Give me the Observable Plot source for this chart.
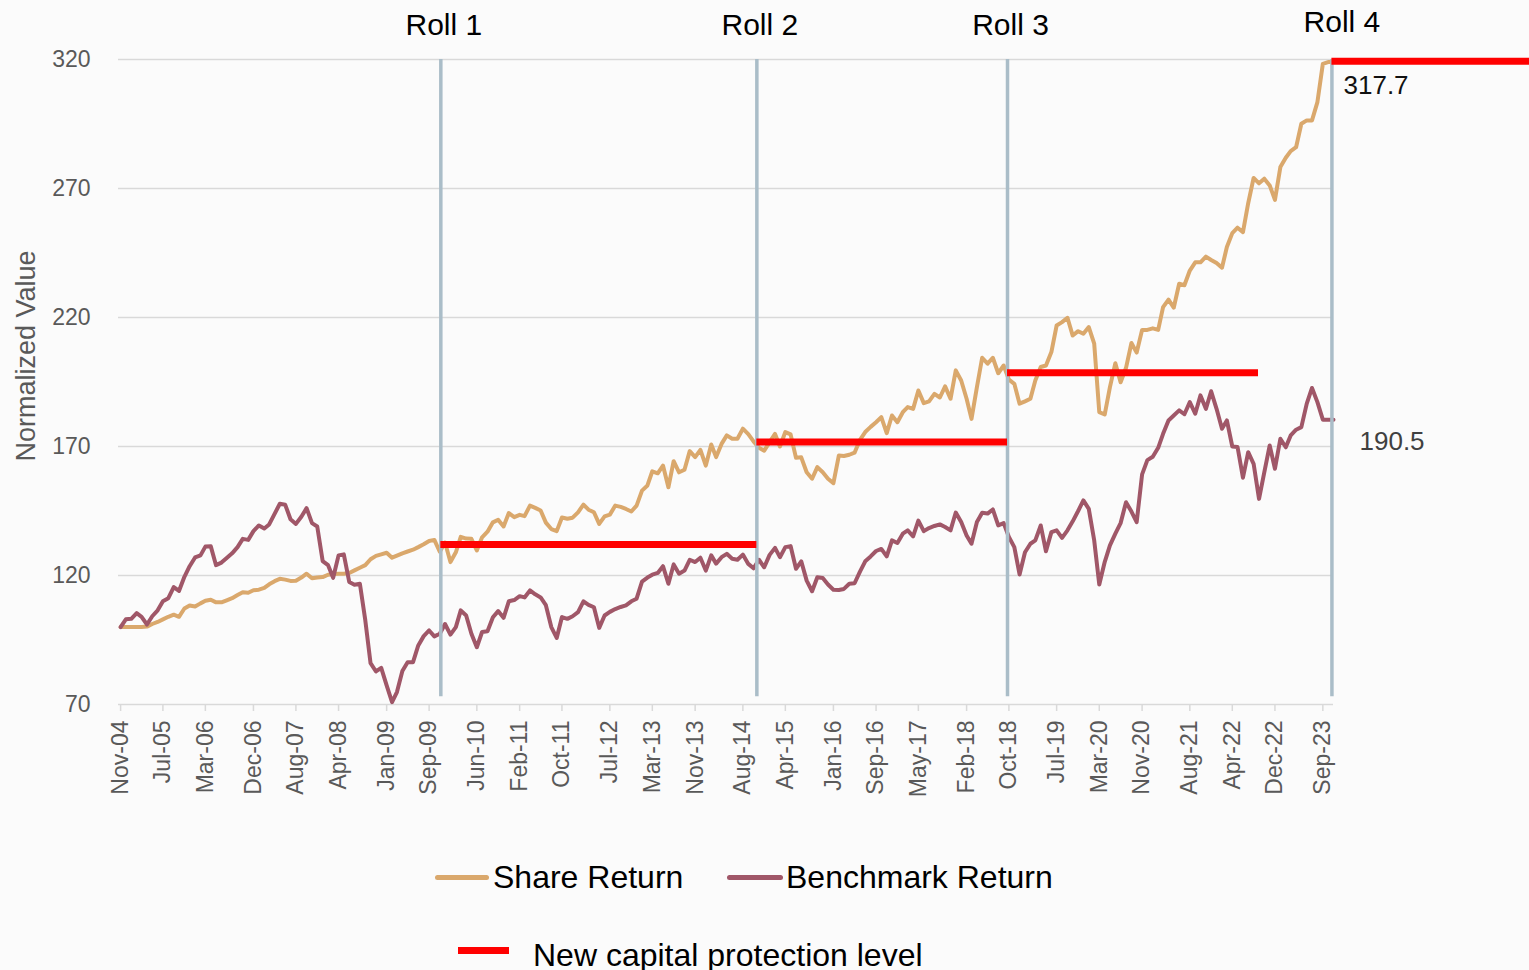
<!DOCTYPE html>
<html>
<head>
<meta charset="utf-8">
<script src="https://cdn.jsdelivr.net/npm/d3@7"></script>
<script src="https://cdn.jsdelivr.net/npm/@observablehq/plot@0.6"></script>
<style>
  body { margin: 0; background: #fbfbfb; font-family: "Liberation Sans", Arial, sans-serif; }
  #wrap { position: relative; width: 1529px; height: 970px; overflow: hidden; background: #fbfbfb; }
  .leg { position: absolute; font-size: 32px; line-height: 32px; color: #000; white-space: nowrap; }
  .sw { position: absolute; }
</style>
</head>
<body>
<div id="wrap"></div>
<script>
// Monthly values, Nov-04 .. Nov-23
const share = [
  100,100,100,100,100,100.2,101.2,102,103,104,
  104.8,104,107.2,108.4,108,109.2,110.2,110.6,109.6,109.6,
  110.4,111.2,112.4,113.5,113.3,114.3,114.5,115.2,116.6,117.8,
  118.7,118.4,117.9,118,119.2,120.7,118.9,119.2,119.4,120.3,
  120.6,120.7,120.7,121,122,123,124,126.3,127.6,128.2,
  128.8,126.9,127.7,128.6,129.3,130,131,132.1,133.4,133.8,
  129.2,132.8,125.2,129,135,134.3,134.2,129.7,134.8,137,
  140.6,141.6,139,144.2,142.6,143.5,143,147.1,146.2,145.2,
  140.5,138,137.2,142.5,142,142.4,144.5,147.5,145.5,144.5,
  140,142.9,143.6,147.1,146.6,145.8,144.8,147.1,152.9,154.9,
  160.4,159.6,162.6,154.2,164.3,160,161,168.2,165.9,168.7,
  162.6,170.8,165.9,171,174.3,173,173,176.9,174.8,172,
  169.5,168.4,171.7,174.9,170,175.6,174.7,165.6,165.8,160,
  157.5,162,160,157.5,155.8,166.5,166.3,166.8,167.6,172.6,
  175.6,177.6,179.4,181.4,175.2,182,179.4,183.3,185.3,184.6,
  191.7,186.8,187.5,190.4,189,193.3,188.5,199.5,195.6,188.5,
  180.7,193,204.4,202.1,204.4,198.4,201.4,195.9,194.3,186.6,
  187.5,188.5,195.6,200.8,201.4,206.6,216.9,218.2,219.9,213,
  214.7,213.7,216.3,209.9,183.3,182.4,193,202.3,194.9,200.5,
  210.1,206.4,215.2,215.2,215.8,215.2,224,226.9,223.8,233.1,
  232.5,238.2,241.4,241.4,243.6,242.3,241.1,239.3,247.3,252.7,
  254.8,253.1,264.3,274.1,272,273.8,271.2,265.6,278.3,281.9,
  284.5,286,295.1,296.4,296.4,303.5,318.3,319,319
];
const bench = [
  100,103,103.2,105.4,104,101,104.2,106.5,110,111.2,
  115.5,114,119.5,123.6,127,127.8,131.2,131.3,124,125,
  126.8,128.6,131,134.2,133.8,137.2,139.4,138.2,139.8,143.9,
  147.8,147.4,141.8,140,142.8,146.1,140.3,139,125.6,124,
  119.1,127.8,128.2,117.5,116.4,116.8,102.6,86,82.8,84.2,
  77.4,70.9,74.8,83,86.4,86.4,92.9,96.5,98.7,96.4,
  97.4,101.2,97.1,100,106.5,104.5,97.4,92.2,98.1,98.4,
  103.8,106.2,103.6,110,110.5,112,111.5,114.2,112.7,111.5,
  108.5,100,95.8,103.9,103.2,104.2,105.8,110,108.6,107.7,
  99.7,104.5,105.9,107,107.8,108.4,110,111,117.6,119.2,
  120.3,121,123.6,116.8,124.3,120.7,121.9,126.1,125.2,126.9,
  121.9,127.8,124.6,127.1,128.4,126.5,126.1,128.1,124.5,122.8,
  126.1,123.2,128,130.7,127.1,131,131.4,122.6,125.5,118,
  113.9,119.3,119,116.5,114.5,114.4,114.8,116.8,117,121.5,
  125.5,127.4,129.5,130.3,127.4,133.6,132.6,136.2,137.5,135.2,
  141.3,137.2,138.4,139.2,139.8,138.8,137.5,144.4,140.7,135.5,
  132.3,140.7,144.3,144,145.6,139.4,140.3,134.9,131,120.4,
  129,132.3,133.6,139.4,129.4,136.8,137.5,134.6,137.5,141,
  145,149.1,145.8,133.6,116.5,125.2,131.7,136.2,140.3,148.4,
  144.8,140.7,159.2,164.7,166,169.5,174.9,180.1,182,184,
  182.5,187.2,182.7,189.8,184.6,191.4,184.6,176.9,180.1,170,
  169.8,157.9,167.8,163.3,149.7,160,170.4,161.4,173,169.7,
  174.3,176.5,177.5,186.6,192.7,187.2,180.4,180.4,180.4
];
const tickLabels = ["Nov-04","Jul-05","Mar-06","Dec-06","Aug-07","Apr-08","Jan-09","Sep-09","Jun-10","Feb-11","Oct-11","Jul-12","Mar-13","Nov-13","Aug-14","Apr-15","Jan-16","Sep-16","May-17","Feb-18","Oct-18","Jul-19","Mar-20","Nov-20","Aug-21","Apr-22","Dec-22","Sep-23"];
const yTicks = [70, 120, 170, 220, 270, 320];
const rollNames = ["Roll 1", "Roll 2", "Roll 3", "Roll 4"];
const rollDates = ["2009-11-07", "2014-10-20", "2018-09-23", "2023-10-23"];
const levelStarts = ["2009-11-07", "2014-10-20", "2018-09-23", "2023-10-23"];
const levelEnds   = ["2014-10-20", "2018-09-23", "2022-08-29", "2027-06-01"];
const levelValues = [132, 171.7, 198.6, 319.3];
const endLabels = ["317.7", "190.5"];

const parseM = d3.utcParse("%b-%y");
const fmtM = d3.utcFormat("%b-%y");
const parseD = d3.utcParse("%Y-%m-%d");

const rows = share.map((s, i) => ({date: new Date(Date.UTC(2004, 10 + i, 1)), share: s, bench: bench[i]}));
const lastDate = rows[rows.length - 1].date;
const tickDates = tickLabels.map(parseM);
const rolls = rollNames.map((n, i) => ({name: n, date: parseD(rollDates[i])}));
const levels = levelValues.map((v, i) => ({level: v, start: parseD(levelStarts[i]), end: parseD(levelEnds[i])}));

const tan = "#daa86c", maroon = "#a05768", red = "#ff0000", rollColor = "#aabdc8", grid = "#d9d9d9", gray = "#595959";

const chart = Plot.plot({
  width: 1529,
  height: 810,
  marginLeft: 118,
  marginRight: 196,
  marginTop: 59,
  marginBottom: 106,
  style: {background: "#fbfbfb", fontFamily: '"Liberation Sans", Arial, sans-serif', overflow: "visible"},
  x: {type: "utc", domain: [parseD("2004-10-20"), lastDate]},
  y: {domain: [70, 320]},
  marks: [
    Plot.gridY(yTicks, {stroke: grid, strokeOpacity: 1, strokeWidth: 1.5}),
    Plot.ruleX(tickDates, {x: d => d, y1: 70, y2: 67.3, stroke: grid, strokeWidth: 1.5}),
    Plot.axisY({ticks: yTicks, tickSize: 0, tickPadding: 28, color: gray, fontSize: 23, label: null}),
    Plot.axisX({ticks: tickDates, tickSize: 0, tickPadding: 16, tickRotate: -90, tickFormat: fmtM, color: gray, fontSize: 23, label: null}),
    Plot.line(rows, {x: "date", y: "share", stroke: tan, strokeWidth: 4, strokeLinejoin: "round"}),
    Plot.line(rows, {x: "date", y: "bench", stroke: maroon, strokeWidth: 4, strokeLinejoin: "round"}),
    Plot.ruleX(rolls, {x: "date", y1: 320, y2: 73, stroke: rollColor, strokeWidth: 3.5}),
    Plot.ruleY(levels, {y: "level", x1: "start", x2: "end", stroke: red, strokeWidth: 7}),
    Plot.text(rolls.slice(0, 3), {x: "date", text: "name", frameAnchor: "top", lineAnchor: "middle", dy: -34, dx: 3, fontSize: 30, fill: "#000"}),
    Plot.text(rolls.slice(3), {x: "date", text: "name", frameAnchor: "top", lineAnchor: "middle", dy: -37, dx: 10, fontSize: 30, fill: "#000"}),
    Plot.text([endLabels[0]], {x: () => lastDate, y: () => 309.7, text: d => d, textAnchor: "start", dx: 10, fontSize: 26, fill: "#111"}),
    Plot.text([endLabels[1]], {x: () => lastDate, y: () => 171.9, text: d => d, textAnchor: "start", dx: 26, fontSize: 26, fill: "#404040"}),
    Plot.text(["Normalized Value"], {frameAnchor: "left", textAnchor: "middle", lineAnchor: "middle", text: d => d, rotate: -90, dx: -92, dy: -26, fontSize: 27, fill: gray})
  ]
});

const wrap = document.getElementById("wrap");
wrap.appendChild(chart);

function addSwatch(left, top, w, h, color, radius) {
  const s = document.createElement("div");
  s.className = "sw";
  Object.assign(s.style, {left: left + "px", top: top + "px", width: w + "px", height: h + "px", background: color, borderRadius: radius + "px"});
  wrap.appendChild(s);
}
function addLabel(left, top, text, size) {
  const t = document.createElement("div");
  t.className = "leg";
  t.textContent = text;
  Object.assign(t.style, {left: left + "px", top: top + "px", fontSize: size + "px", lineHeight: size + "px"});
  wrap.appendChild(t);
}
addSwatch(435, 874.5, 54, 5, tan, 2.5);
addLabel(493, 861, "Share Return", 32);
addSwatch(727, 874.5, 56, 5, maroon, 2.5);
addLabel(786, 861, "Benchmark Return", 32);
addSwatch(458, 946.5, 51, 7, red, 0);
addLabel(533, 939, "New capital protection level", 32);
</script>
</body>
</html>
